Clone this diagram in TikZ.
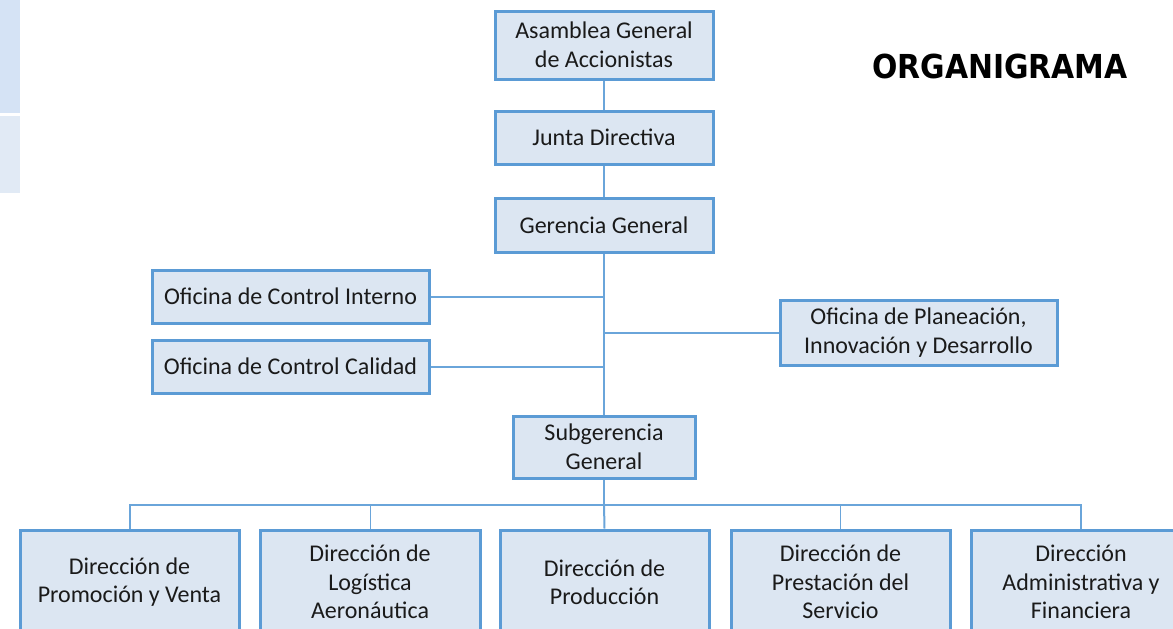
\documentclass[tikz,border=0pt]{standalone}
\usepackage{fontspec}
\usetikzlibrary{calc,backgrounds}
\setmainfont{Carlito}
\newfontfamily\titlefont{DejaVu Sans}
\definecolor{bordc}{HTML}{5B9BD5}
\definecolor{linec}{HTML}{6AA5DA}
\definecolor{fillc}{HTML}{DCE6F2}
\definecolor{stripa}{HTML}{D5E3F5}
\definecolor{stripb}{HTML}{E1EAF5}
\definecolor{txt}{HTML}{1A1A1A}
\begin{document}
\begin{tikzpicture}[x=1pt,y=-1pt,
  orgbox/.style={draw=bordc,line width=3pt,fill=fillc,inner sep=0pt,align=center,
    font=\fontsize{24}{28.5}\selectfont,text=txt},
  conn/.style={draw=linec,line width=2pt},
  thinconn/.style={draw=linec,line width=1pt}]
\clip (0,0) rectangle (1173,629);
\node[font=\titlefont\bfseries\fontsize{33}{36}\selectfont,xscale=0.905,text=black] (title) at (1000,66) {ORGANIGRAMA};
\node[orgbox,minimum width=218,minimum height=68] (asam) at (604,45) {Asamblea General\\de Accionistas};
\node[orgbox,minimum width=218,minimum height=53] (junta) at (604,137.5) {Junta Directiva};
\node[orgbox,minimum width=218,minimum height=54] (ger) at (604,225) {Gerencia General};
\node[orgbox,minimum width=277,minimum height=53] (ci) at (290.5,296.5) {Oficina de Control Interno};
\node[orgbox,minimum width=277,minimum height=53] (cc) at (290.5,366.5) {Oficina de Control Calidad};
\node[orgbox,minimum width=277,minimum height=65] (pl) at (918.5,332.5) {Oficina de Planeación,\\Innovación y Desarrollo};
\node[orgbox,minimum width=182,minimum height=62] (sub) at (604,447) {Subgerencia\\General};
\node[orgbox,minimum width=219,minimum height=104] (d1) at (129.5,582) {Dirección de\\Promoción y Venta};
\node[orgbox,minimum width=220,minimum height=104] (d2) at (370,582) {Dirección de\\Logística\\Aeronáutica};
\node[orgbox,minimum width=209,minimum height=104] (d3) at (604.5,582) {Dirección de\\Producción};
\node[orgbox,minimum width=219,minimum height=104] (d4) at (840.5,582) {Dirección de\\Prestación del\\Servicio};
\node[orgbox,minimum width=220,minimum height=104] (d5) at (1081,582) {Dirección\\Administrativa y\\Financiera};
\begin{scope}[on background layer]
\fill[white] (0,0) rectangle (1173,629);
\fill[stripa] (0,0) rectangle (20,113);
\fill[stripb] (0,116) rectangle (20,193);
\draw[conn] (asam.south) -- (junta.north);
\draw[conn] (junta.south) -- (ger.north);
\draw[conn] (ger.south) -- (sub.north);
\draw[conn] (ci.east) -- (ci.east -| ger.south);
\draw[conn] (cc.east) -- (cc.east -| ger.south);
\draw[conn] (pl.west) -- (pl.west -| ger.south);
\coordinate (bar) at ($(sub.south)+(0,25)$);
\draw[conn] (sub.south) -- (bar);
\draw[conn] (d1.north) |- (bar) -| (d5.north);
\draw[conn] (bar) -- (d3.north);
\draw[thinconn] (d2.north) -- (d2.north |- bar);
\draw[thinconn] (d4.north) -- (d4.north |- bar);
\end{scope}
\end{tikzpicture}
\end{document}
